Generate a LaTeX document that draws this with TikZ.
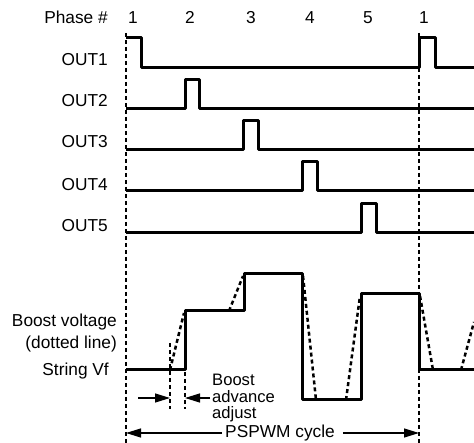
\documentclass[tikz,border=0pt]{standalone}
\usepackage{fontspec}
\setmainfont{Liberation Sans}
\usetikzlibrary{arrows.meta}
\begin{document}
\begin{tikzpicture}[x=1pt,y=-1pt,
 lbl/.style={inner sep=0pt,font=\fontsize{17.3}{19}\selectfont},
 wave/.style={line width=3pt,line join=round},
 boostline/.style={line width=2.5pt,dash pattern=on 4pt off 3pt},
 guide/.style={line width=1.1pt,dash pattern=on 4pt off 3pt},
 dimarrow/.style={line width=1.3pt,-{Triangle[length=15pt,width=9pt]}}]
\useasboundingbox (0,0) rectangle (474,443);
% phase labels
\node[lbl,anchor=base east] (ph) at (108,24) {Phase \#};
\node[lbl,anchor=base] (p1) at (133,24) {1};
\node[lbl,anchor=base] (p2) at (190,24) {2};
\node[lbl,anchor=base] (p3) at (251,24) {3};
\node[lbl,anchor=base] (p4) at (310,24) {4};
\node[lbl,anchor=base] (p5) at (368,24) {5};
\node[lbl,anchor=base] (p6) at (424,24) {1};
% output labels
\node[lbl,anchor=base east] (o1) at (108,66) {OUT1};
\node[lbl,anchor=base east] (o2) at (108,107) {OUT2};
\node[lbl,anchor=base east] (o3) at (108,148) {OUT3};
\node[lbl,anchor=base east] (o4) at (108,191) {OUT4};
\node[lbl,anchor=base east] (o5) at (108,232) {OUT5};
% guide lines
\coordinate (gLt) at (126,33); \coordinate (gLb) at (126,443);
\coordinate (gRt) at (419,33); \coordinate (gRb) at (419,443);
\draw[guide] (gLt) -- (gLb);
\draw[guide] (gRt) -- (gRb);
% waveforms
\draw[wave] (126,38) -- (141,38) -- (141,68) -- (419,68) -- (419,38) -- (435,38) -- (435,68) -- (474,68);
\draw[wave] (126,109) -- (185,109) -- (185,80) -- (199,80) -- (199,109) -- (474,109);
\draw[wave] (126,150) -- (243,150) -- (243,121) -- (258,121) -- (258,150) -- (474,150);
\draw[wave] (126,191) -- (302,191) -- (302,162) -- (317,162) -- (317,191) -- (474,191);
\draw[wave] (126,233) -- (361,233) -- (361,204) -- (376,204) -- (376,233) -- (474,233);
% boost section labels
\node[lbl,anchor=base east] (bv) at (117,327) {Boost voltage};
\node[lbl,anchor=base east] (dl) at (117,349) {(dotted line)};
\node[lbl,anchor=base east] (sv) at (109,376) {String Vf};
% string voltage
\draw[wave] (126,370) -- (185,370) -- (185,311) -- (244,311) -- (244,274) -- (302,274) -- (302,400) -- (361,400) -- (361,294) -- (419,294) -- (419,370) -- (474,370);
% boost voltage (dotted)
\draw[boostline] (170,370) -- (184,313);
\draw[boostline] (229,311) -- (243,276);
\draw[boostline] (303,276) -- (316,400);
\draw[boostline] (346,400) -- (360,296);
\draw[boostline] (420,296) -- (433,370);
\draw[boostline] (461,370) -- (474,322);
% boost advance markers
\coordinate (m1t) at (170,343); \coordinate (m1b) at (170,409);
\coordinate (m2t) at (185,372); \coordinate (m2b) at (185,409);
\draw[guide] (m1t) -- (m1b);
\draw[guide] (m2t) -- (m2b);
\coordinate (a1s) at (138,398); \coordinate (a1e) at (170,398);
\coordinate (a2s) at (210,398); \coordinate (a2e) at (185,398);
\draw[dimarrow] (a1s) -- (a1e);
\draw[dimarrow] (a2s) -- (a2e);
\node[lbl,anchor=north west,align=left,font=\fontsize{16.6}{16.5}\selectfont] (ba) at (212,374) {Boost\\advance\\adjust};
% PSPWM cycle
\node[lbl,anchor=base] (cyc) at (280,438) {PSPWM cycle};
\coordinate (cL) at (126,433); \coordinate (cR) at (419,433);
\draw[dimarrow] (cyc.west |- cL) ++(-3,0) -- (cL);
\draw[dimarrow] (cyc.east |- cR) ++(8,0) -- (cR);
\end{tikzpicture}
\end{document}
